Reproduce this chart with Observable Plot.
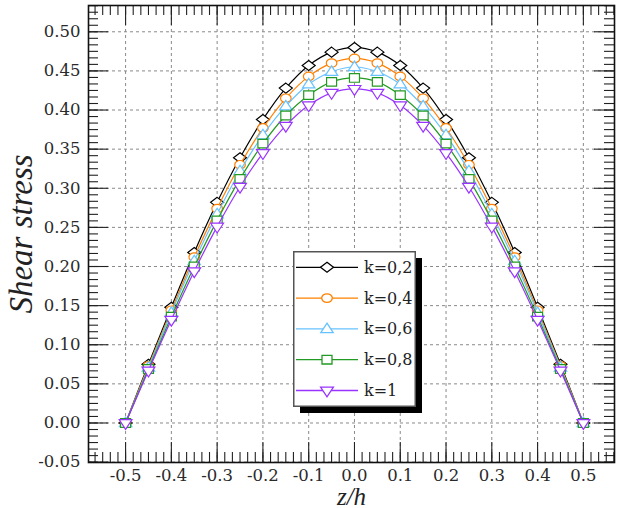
<!DOCTYPE html>
<html><head><meta charset="utf-8">
<script src="https://cdn.jsdelivr.net/npm/d3@7"></script>
<script src="https://cdn.jsdelivr.net/npm/@observablehq/plot@0.6"></script>
<style>
body{margin:0;background:#fff;}
#wrap{position:relative;width:619px;height:508px;}
#legend{position:absolute;left:293px;top:251px;}
</style></head><body><div id="wrap"></div>
<script>
// ---- data ----
const z = [-0.5,-0.45,-0.4,-0.35,-0.3,-0.25,-0.2,-0.15,-0.1,-0.05,0,0.05,0.1,0.15,0.2,0.25,0.3,0.35,0.4,0.45,0.5];
const k02 = [0,0.075,0.148,0.218,0.282,0.339,0.388,0.428,0.457,0.474,0.480,0.474,0.457,0.428,0.388,0.339,0.282,0.218,0.148,0.075,0];
const k04 = [0,0.073,0.144,0.212,0.274,0.330,0.377,0.415,0.443,0.460,0.466,0.460,0.443,0.415,0.377,0.330,0.274,0.212,0.144,0.073,0];
const k06 = [0,0.071,0.141,0.207,0.267,0.322,0.368,0.405,0.433,0.449,0.455,0.449,0.433,0.405,0.368,0.322,0.267,0.207,0.141,0.071,0];
const k08 = [0,0.069,0.136,0.200,0.259,0.312,0.357,0.393,0.419,0.436,0.441,0.436,0.419,0.393,0.357,0.312,0.259,0.200,0.136,0.069,0];
const k10 = [0,0.067,0.132,0.194,0.251,0.302,0.345,0.380,0.406,0.422,0.427,0.422,0.406,0.380,0.345,0.302,0.251,0.194,0.132,0.067,0];
const seriesNames = ["k=0,2","k=0,4","k=0,6","k=0,8","k=1"];
const seriesValues = [k02,k04,k06,k08,k10];
const seriesColors = ["#000000","#ff8000","#66c2ff","#239a23","#9933ff"];
const xTicks = [-0.5,-0.4,-0.3,-0.2,-0.1,0,0.1,0.2,0.3,0.4,0.5];
const xTickLabels = ["-0.5","-0.4","-0.3","-0.2","-0.1","0.0","0.1","0.2","0.3","0.4","0.5"];
const yTicks = [-0.05,0,0.05,0.1,0.15,0.2,0.25,0.3,0.35,0.4,0.45,0.5];
const yTickLabels = ["-0.05","0.00","0.05","0.10","0.15","0.20","0.25","0.30","0.35","0.40","0.45","0.50"];
const xLabel = "z/h";
const yLabel = "Shear stress";

// ---- marker shapes (slightly wide, like the reference) ----
const K = 0.5523;
function ellipse(c, rx, ry){
  c.moveTo(rx,0);
  c.bezierCurveTo(rx, ry*K, rx*K, ry, 0, ry);
  c.bezierCurveTo(-rx*K, ry, -rx, ry*K, -rx, 0);
  c.bezierCurveTo(-rx, -ry*K, -rx*K, -ry, 0, -ry);
  c.bezierCurveTo(rx*K, -ry, rx, -ry*K, rx, 0);
  c.closePath();
}
const symbols = [
  {draw(c){c.moveTo(0,-5);c.lineTo(6.5,0);c.lineTo(0,5);c.lineTo(-6.5,0);c.closePath();}},
  {draw(c){ellipse(c,5.3,4.3);}},
  {draw(c){c.moveTo(0,-5.8);c.lineTo(6.2,3.7);c.lineTo(-6.2,3.7);c.closePath();}},
  {draw(c){c.rect(-5,-4.3,10,8.6);}},
  {draw(c){c.moveTo(-6.4,-3.4);c.lineTo(6.4,-3.4);c.lineTo(0,6.4);c.closePath();}}
];

const rows = seriesValues.flatMap((vals, s) => vals.map((v, i) => ({z: z[i], v, s})));

const W = 619, H = 508, mL = 88, mR = 5, mT = 5, mB = 46;
const iW = W - mL - mR, iH = H - mT - mB;
const xMinor = d3.range(-35, 35).map(i => i / 60).filter(d => d > -0.581 && d < 0.568);
const yMinor = d3.range(-7, 67).map(i => i / 120).filter(d => d > -0.0505 && d < 0.5336);
const tickStyle = {stroke: "#222", strokeWidth: 1.1};

const marks = [
  Plot.gridX(xTicks, {x: d => d, stroke: "#8a8a8a", strokeOpacity: 1, strokeDasharray: "3,3", strokeWidth: 1}),
  Plot.gridY(yTicks, {y: d => d, stroke: "#8a8a8a", strokeOpacity: 1, strokeDasharray: "3,3", strokeWidth: 1}),
];
seriesNames.forEach((name, s) => {
  const d = rows.filter(r => r.s === s);
  marks.push(Plot.line(d, {x: "z", y: "v", stroke: seriesColors[s], strokeWidth: 1.2, curve: "catmull-rom"}));
  marks.push(Plot.dot(d, {x: "z", y: "v", symbol: symbols[s], stroke: seriesColors[s], fill: "white", strokeWidth: 1.2}));
});
marks.push(
  Plot.tickX(xMinor, {x: d => d, insetTop: iH - 10, ...tickStyle}),
  Plot.tickX(xMinor, {x: d => d, insetBottom: iH - 10, ...tickStyle}),
  Plot.tickX(xTicks, {x: d => d, insetTop: iH - 20, ...tickStyle}),
  Plot.tickX(xTicks, {x: d => d, insetBottom: iH - 20, ...tickStyle}),
  Plot.tickY(yMinor, {y: d => d, insetRight: iW - 10, ...tickStyle}),
  Plot.tickY(yMinor, {y: d => d, insetLeft: iW - 10, ...tickStyle}),
  Plot.tickY(yTicks, {y: d => d, insetRight: iW - 20, ...tickStyle}),
  Plot.tickY(yTicks, {y: d => d, insetLeft: iW - 20, ...tickStyle}),
  Plot.frame({stroke: "#111", strokeWidth: 1.6}),
  Plot.axisX(xTicks, {anchor: "bottom", tickSize: 0, tickPadding: 7, label: null, fontSize: 16.5, fill: "#2a2a2a",
    tickFormat: d => xTickLabels[xTicks.indexOf(d)]}),
  Plot.axisY(yTicks, {anchor: "left", tickSize: 0, tickPadding: 8, label: null, fontSize: 16.5, fill: "#2a2a2a",
    tickFormat: d => yTickLabels[yTicks.indexOf(d)]}),
  Plot.text([xLabel], {frameAnchor: "bottom", lineAnchor: "middle", textAnchor: "middle", dy: 34, text: d => d,
    fontSize: 25, fontStyle: "italic", fontFamily: "Liberation Serif", fill: "#222"}),
  Plot.text([yLabel], {frameAnchor: "left", lineAnchor: "middle", textAnchor: "middle", dx: -67, rotate: -90, text: d => d,
    fontSize: 33, fontStyle: "italic", fontFamily: "Liberation Serif", fill: "#222"})
);

const svg = Plot.plot({
  width: W, height: H,
  marginLeft: mL, marginRight: mR, marginTop: mT, marginBottom: mB,
  style: {fontFamily: "DejaVu Serif", background: "white"},
  x: {domain: [-0.581, 0.568]},
  y: {domain: [-0.0505, 0.5336]},
  marks
});
document.getElementById("wrap").appendChild(svg);

// ---- legend ----
const lg = d3.select("#wrap").append("svg").attr("id", "legend").attr("width", 131).attr("height", 164);
lg.append("rect").attr("x", 7).attr("y", 7).attr("width", 122).attr("height", 155).attr("fill", "black");
lg.append("rect").attr("x", 0.75).attr("y", 0.75).attr("width", 121.5).attr("height", 154.5)
  .attr("fill", "white").attr("stroke", "#555").attr("stroke-width", 1.5);
seriesNames.forEach((name, s) => {
  const cy = 16.3 + s * 30.8;
  lg.append("line").attr("x1", 3).attr("x2", 65).attr("y1", cy).attr("y2", cy)
    .attr("stroke", seriesColors[s]).attr("stroke-width", 1.3);
  lg.append("path").attr("d", d3.symbol(symbols[s], 64)()).attr("transform", `translate(34,${cy})`)
    .attr("fill", "white").attr("stroke", seriesColors[s]).attr("stroke-width", 1.3);
  lg.append("text").attr("x", 71).attr("y", cy + 5.5).text(name)
    .attr("font-family", "DejaVu Serif").attr("font-size", 16).attr("fill", "#222");
});
</script></body></html>
